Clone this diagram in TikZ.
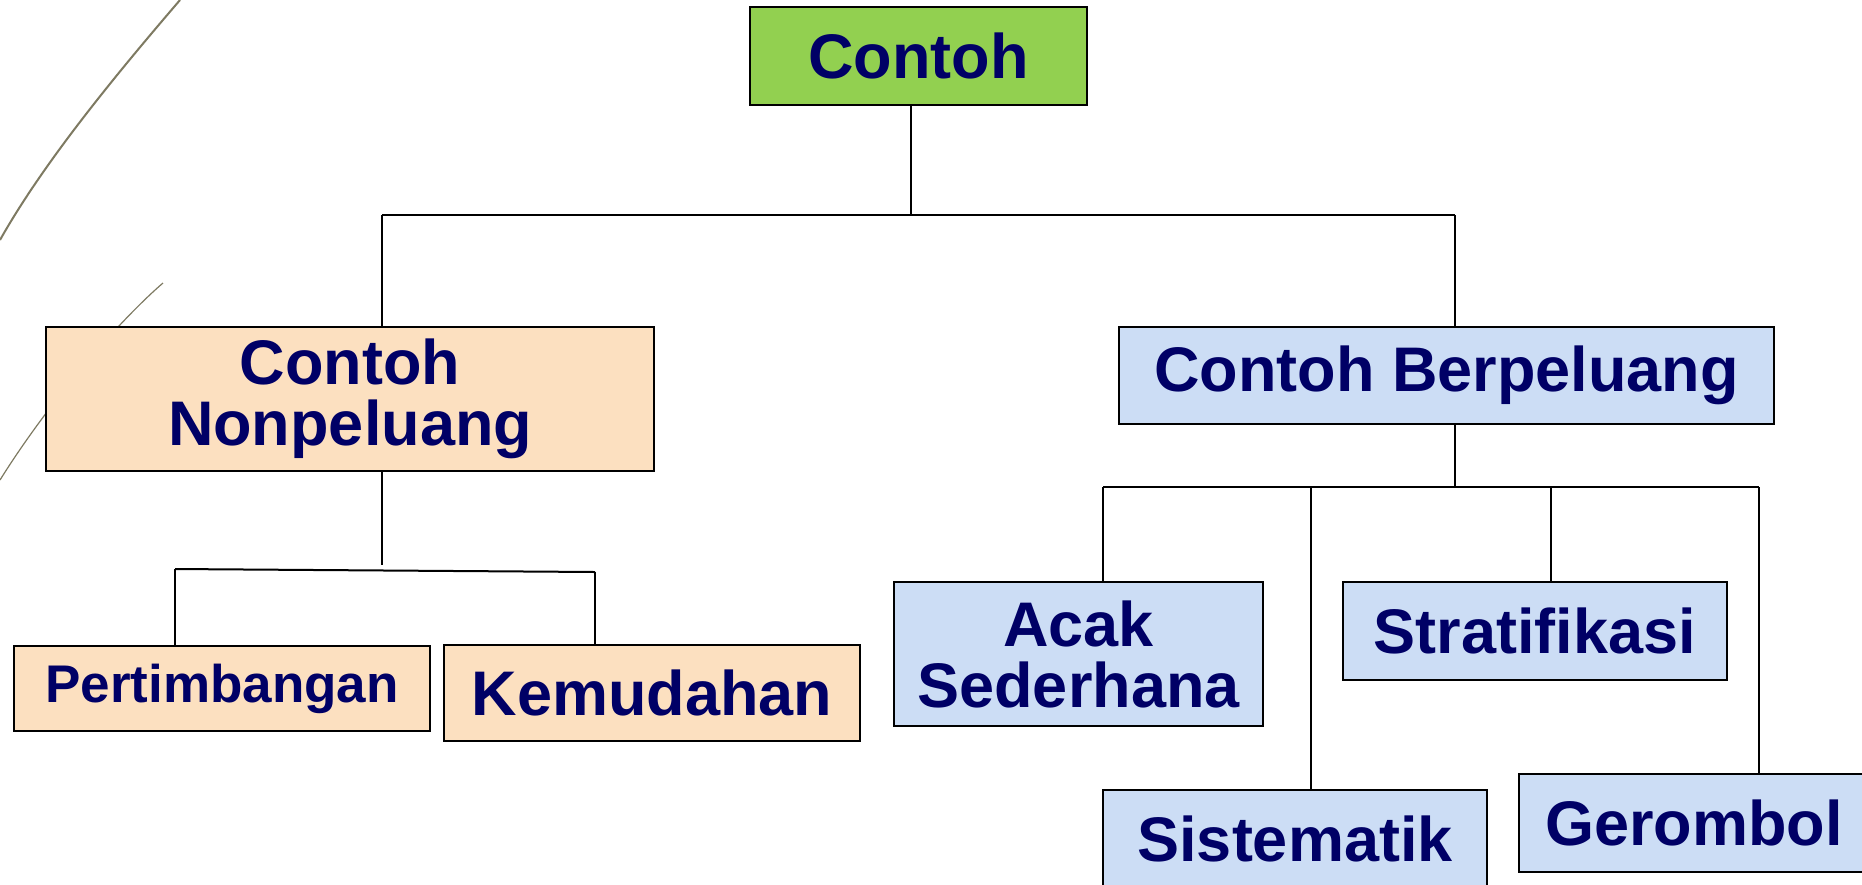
\documentclass[tikz,border=0pt]{standalone}
\usepackage{fontspec}
\setmainfont{Liberation Sans}
\usetikzlibrary{positioning,calc}

\definecolor{navy}{HTML}{000066}
\definecolor{leaf}{HTML}{92D050}
\definecolor{peach}{HTML}{FCE0C0}
\definecolor{sky}{HTML}{CCDDF5}
\definecolor{olive}{HTML}{7E7A62}

\tikzset{
  box/.style={draw=black, line width=2.5pt, inner sep=0pt, align=center,
    text=navy, font=\fontsize{63}{61}\selectfont\bfseries},
  link/.style={draw=black, line width=2pt},
}

\begin{document}
\begin{tikzpicture}[x=1pt,y=-1pt]
  \useasboundingbox (0,0) rectangle (1862,884);
  \clip (0,0) rectangle (1862,884);

  % template arcs
  \draw[olive, line width=2pt] (180,0) .. controls (120,70) and (45,160) .. (0,240);
  \draw[olive, line width=1.2pt] (163,283) .. controls (120,320) and (50,400) .. (0,480);

  \node[box, fill=leaf, minimum width=337pt, minimum height=98pt] (c0) at (918.5,56) {Contoh};
  \node[box, fill=peach, minimum width=608pt, minimum height=144pt] (c1) at (350,399) {Contoh\\Nonpeluang};
  \node[box, fill=sky, minimum width=655pt, minimum height=97pt] (c2) at (1446.5,375.5) {Contoh Berpeluang};
  \node[box, fill=peach, minimum width=416pt, minimum height=85pt,
    font=\fontsize{53}{53}\selectfont\bfseries] (c3) at (222,688.5) {Pertimbangan};
  \node[box, fill=peach, minimum width=416pt, minimum height=96pt] (c4) at (652,693) {Kemudahan};
  \node[box, fill=sky, minimum width=369pt, minimum height=144pt] (c5) at (1078.5,654) {Acak\\Sederhana};
  \node[box, fill=sky, minimum width=384pt, minimum height=98pt] (c6) at (1535,631) {Stratifikasi};
  \node[box, fill=sky, minimum width=384pt, minimum height=98pt] (c7) at (1295,839) {Sistematik};
  \node[box, fill=sky, minimum width=350pt, minimum height=98pt] (c8) at (1694,823) {Gerombol};

  % level 1
  \coordinate (j0) at (911,215);
  \coordinate (jl) at (382,215);
  \coordinate (jr) at (1455,215);
  \draw[link] (c0.south -| j0) -- (j0);
  \draw[link] (jl) -- (jr);
  \draw[link] (jl) -- (jl |- c1.north);
  \draw[link] (jr) -- (jr |- c2.north);

  % nonpeluang
  \coordinate (k0) at (382,565);
  \coordinate (kl) at (175,569);
  \coordinate (kr) at (595,572);
  \draw[link] (c1.south -| k0) -- (k0);
  \draw[link] (kl) -- (kr);
  \draw[link] (kl) -- (kl |- c3.north);
  \draw[link] (kr) -- (kr |- c4.north);

  % berpeluang
  \coordinate (b0) at (1455,487);
  \coordinate (bl) at (1103,487);
  \coordinate (b1) at (1311,487);
  \coordinate (b2) at (1551,487);
  \coordinate (br) at (1759,487);
  \draw[link] (c2.south -| b0) -- (b0);
  \draw[link] (bl) -- (br);
  \draw[link] (bl) -- (bl |- c5.north);
  \draw[link] (b1) -- (b1 |- c7.north);
  \draw[link] (b2) -- (b2 |- c6.north);
  \draw[link] (br) -- (br |- c8.north);

\end{tikzpicture}
\end{document}
